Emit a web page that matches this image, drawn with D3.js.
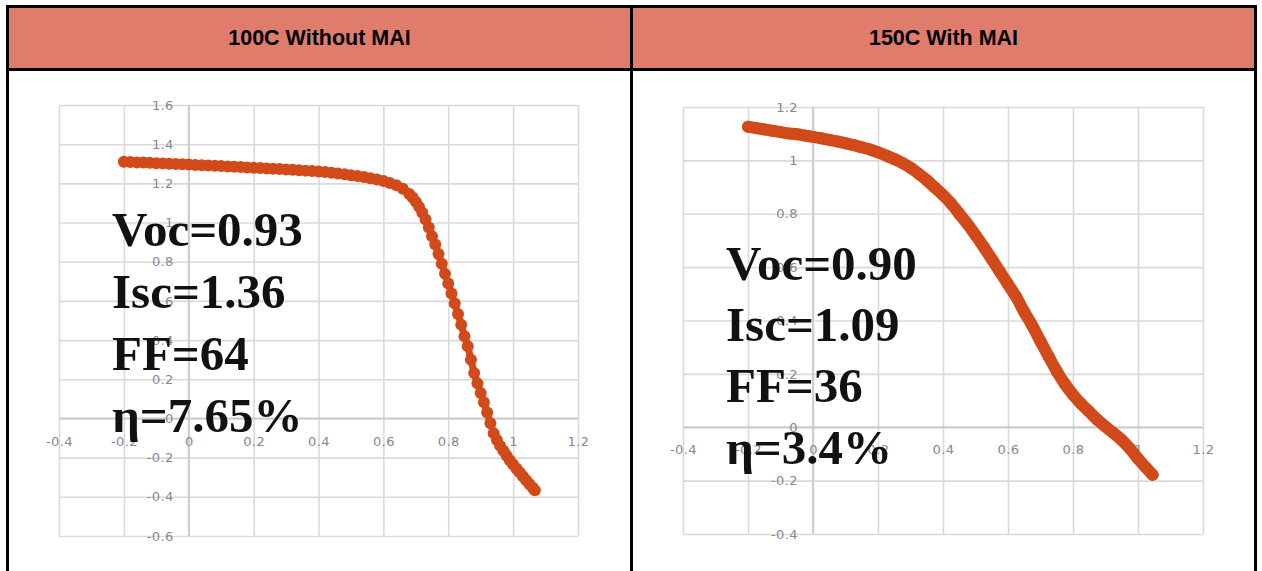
<!DOCTYPE html>
<html>
<head>
<meta charset="utf-8">
<script src="https://cdn.jsdelivr.net/npm/d3@7"></script>
<style>
  html, body { margin: 0; padding: 0; background: #ffffff; }
  svg { display: block; }
</style>
</head>
<body>
<svg id="chart" width="1262" height="571"></svg>
<script>
// ---------- data ----------
const panelTitles = ["100C Without MAI", "150C With MAI"];

// Left panel (100C without MAI): voltage (V) and current
const leftVoltage = [-0.20,-0.18,-0.16,-0.14,-0.12,-0.10,-0.08,-0.06,-0.04,-0.02,
  0.00,0.02,0.04,0.06,0.08,0.10,0.12,0.14,0.16,0.18,0.20,0.22,0.24,0.26,0.28,0.30,
  0.32,0.34,0.36,0.38,0.40,0.42,0.44,0.46,0.48,0.50,0.52,0.54,0.56,0.58,0.60,0.62,
  0.64,0.66,0.68,0.69,0.70,0.71,0.72,0.73,0.74,0.75,0.76,0.77,0.78,0.79,0.80,0.81,
  0.82,0.83,0.84,0.85,0.86,0.87,0.88,0.89,0.90,0.91,0.92,0.93,0.94,0.95,0.96,0.97,
  0.98,0.99,1.00,1.01,1.02,1.03,1.04,1.05,1.06,1.067];
const leftCurrent = [1.310,1.309,1.307,1.306,1.305,1.303,1.302,1.300,1.299,1.297,
  1.296,1.294,1.293,1.291,1.290,1.288,1.286,1.285,1.283,1.281,1.280,1.278,1.276,1.275,1.273,1.271,
  1.269,1.267,1.265,1.263,1.261,1.258,1.254,1.250,1.246,1.242,1.237,1.232,1.226,1.220,1.212,1.202,
  1.190,1.172,1.146,1.128,1.106,1.080,1.050,1.015,0.975,0.930,0.888,0.840,0.790,0.738,0.689,0.638,
  0.587,0.533,0.478,0.420,0.368,0.300,0.232,0.180,0.130,0.083,0.030,-0.025,-0.075,-0.110,-0.140,-0.165,
  -0.190,-0.215,-0.235,-0.255,-0.275,-0.295,-0.315,-0.334,-0.352,-0.366];

// Right panel (150C with MAI)
const rightVoltage = [-0.200,-0.175,-0.150,-0.125,-0.100,-0.075,-0.050,-0.025,0.000,0.025,
  0.050,0.075,0.100,0.125,0.150,0.175,0.200,0.225,0.250,0.275,0.300,0.325,0.350,0.375,0.400,
  0.425,0.450,0.475,0.500,0.525,0.550,0.575,0.600,0.625,0.650,0.675,0.700,0.725,0.750,0.775,
  0.800,0.825,0.850,0.875,0.900,0.925,0.950,0.975,1.000,1.025,1.045];
const rightCurrent = [1.126,1.121,1.116,1.111,1.106,1.101,1.098,1.093,1.088,1.083,
  1.077,1.071,1.064,1.057,1.049,1.041,1.030,1.018,1.005,0.990,0.972,0.950,0.926,0.898,0.870,
  0.838,0.800,0.762,0.720,0.676,0.630,0.583,0.536,0.489,0.432,0.380,0.322,0.265,0.210,0.162,
  0.122,0.088,0.058,0.028,0.002,-0.022,-0.048,-0.080,-0.118,-0.152,-0.178];

// Tick values / labels
const leftXTicks = [-0.4,-0.2,0,0.2,0.4,0.6,0.8,1,1.2];
const leftXLabels = ["-0.4","-0.2","0","0.2","0.4","0.6","0.8","1","1.2"];
const leftYTicks = [-0.6,-0.4,-0.2,0,0.2,0.4,0.6,0.8,1,1.2,1.4,1.6];
const leftYLabels = ["-0.6","-0.4","-0.2","0","0.2","0.4","0.6","0.8","1","1.2","1.4","1.6"];
const rightXTicks = [-0.4,-0.2,0,0.2,0.4,0.6,0.8,1,1.2];
const rightXLabels = ["-0.4","-0.2","0","0.2","0.4","0.6","0.8","1","1.2"];
const rightYTicks = [-0.4,-0.2,0,0.2,0.4,0.6,0.8,1,1.2];
const rightYLabels = ["-0.4","-0.2","0","0.2","0.4","0.6","0.8","1","1.2"];

// Annotations
const leftNotes = ["Voc=0.93", "Isc=1.36", "FF=64", "η=7.65%"];
const rightNotes = ["Voc=0.90", "Isc=1.09", "FF=36", "η=3.4%"];

// ---------- layout ----------
const svg = d3.select("#chart");
const W = 1262, H = 571;
const headerColor = "#df7c6c";
const curveColor = "#d24a1a";

// header cells
svg.append("rect").attr("x", 7.5).attr("y", 6.5).attr("width", 1248).attr("height", 63)
  .attr("fill", headerColor);
// borders
const border = svg.append("g").attr("stroke", "#000").attr("stroke-width", 3).attr("fill", "none");
border.append("line").attr("x1", 7.5).attr("x2", 7.5).attr("y1", 5).attr("y2", H);
border.append("line").attr("x1", 631.5).attr("x2", 631.5).attr("y1", 5).attr("y2", H);
border.append("line").attr("x1", 1255.5).attr("x2", 1255.5).attr("y1", 5).attr("y2", H);
border.append("line").attr("x1", 6).attr("x2", 1257).attr("y1", 6.5).attr("y2", 6.5);
border.append("line").attr("x1", 6).attr("x2", 1257).attr("y1", 69.5).attr("y2", 69.5);

const headerCenters = [319.5, 943.5];
panelTitles.forEach((t, i) => {
  svg.append("text").attr("x", headerCenters[i]).attr("y", 38)
    .attr("text-anchor", "middle").attr("dominant-baseline", "central")
    .attr("font-family", "'Liberation Sans', Arial, sans-serif")
    .attr("font-weight", "bold").attr("font-size", 21.5).attr("fill", "#000")
    .text(t);
});

function drawPanel(cfg) {
  const x = d3.scaleLinear().domain([-0.4, 1.2]).range([cfg.x0, cfg.x1]);
  const y = d3.scaleLinear().domain(cfg.yDomain).range([cfg.y1, cfg.y0]);
  const g = svg.append("g");

  // vertical gridlines
  const gx = g.append("g").attr("transform", `translate(0,${cfg.y1})`)
    .call(d3.axisBottom(x).tickValues(cfg.xTicks).tickSize(-(cfg.y1 - cfg.y0)).tickFormat(""));
  gx.select(".domain").remove();
  gx.selectAll("line").attr("stroke", "#dadada").attr("stroke-width", 1.6);

  // horizontal gridlines
  const gy = g.append("g").attr("transform", `translate(${cfg.x0},0)`)
    .call(d3.axisLeft(y).tickValues(cfg.yTicks).tickSize(-(cfg.x1 - cfg.x0)).tickFormat(""));
  gy.select(".domain").remove();
  gy.selectAll("line").attr("stroke", "#dadada").attr("stroke-width", 1.6);

  // zero axes
  g.append("line").attr("x1", cfg.x0).attr("x2", cfg.x1).attr("y1", y(0)).attr("y2", y(0))
    .attr("stroke", "#cbcbcb").attr("stroke-width", 1.8);
  g.append("line").attr("x1", x(0)).attr("x2", x(0)).attr("y1", cfg.y0).attr("y2", cfg.y1)
    .attr("stroke", "#cbcbcb").attr("stroke-width", 1.8);

  // x labels
  const xl = g.append("g").attr("transform", `translate(0,${y(0)})`)
    .call(d3.axisBottom(x).tickValues(cfg.xTicks).tickSize(0).tickPadding(18)
      .tickFormat((d, i) => cfg.xLabels[i]));
  xl.select(".domain").remove();
  xl.selectAll("text").attr("font-family", "'DejaVu Sans', sans-serif").attr("font-size", 13)
    .attr("fill", "#868698").attr("letter-spacing", 0.4);

  // y labels
  const yl = g.append("g").attr("transform", `translate(${x(0)},0)`)
    .call(d3.axisLeft(y).tickValues(cfg.yTicks).tickSize(0).tickPadding(15)
      .tickFormat((d, i) => cfg.yLabels[i]));
  yl.select(".domain").remove();
  yl.selectAll("text").attr("font-family", "'DejaVu Sans', sans-serif").attr("font-size", 13)
    .attr("fill", "#868698").attr("letter-spacing", 0.4);

  // curve
  const pts = cfg.v.map((v, i) => [v, cfg.c[i]]);
  const line = d3.line().x(d => x(d[0])).y(d => y(d[1])).curve(d3.curveMonotoneX);
  g.append("path").datum(pts).attr("d", line).attr("fill", "none")
    .attr("stroke", curveColor).attr("stroke-width", cfg.lineWidth)
    .attr("stroke-linecap", "round").attr("stroke-linejoin", "round");
  g.append("g").selectAll("circle").data(pts).join("circle")
    .attr("cx", d => x(d[0])).attr("cy", d => y(d[1])).attr("r", 6)
    .attr("fill", curveColor);

  // annotations
  cfg.notes.forEach((t, i) => {
    g.append("text").attr("x", cfg.noteX).attr("y", cfg.noteY[i])
      .attr("font-family", "'Liberation Serif', 'Times New Roman', serif")
      .attr("font-weight", "bold").attr("font-size", 49).attr("fill", "#111")
      .text(t);
  });
}

drawPanel({
  x0: 59, x1: 578, y0: 105, y1: 536, yDomain: [-0.6, 1.6],
  xTicks: leftXTicks, xLabels: leftXLabels, yTicks: leftYTicks, yLabels: leftYLabels,
  v: leftVoltage, c: leftCurrent, lineWidth: 7,
  notes: leftNotes, noteX: 112, noteY: [246, 308, 370, 432]
});

drawPanel({
  x0: 683, x1: 1203, y0: 107, y1: 534, yDomain: [-0.4, 1.2],
  xTicks: rightXTicks, xLabels: rightXLabels, yTicks: rightYTicks, yLabels: rightYLabels,
  v: rightVoltage, c: rightCurrent, lineWidth: 12,
  notes: rightNotes, noteX: 726, noteY: [280, 341, 402, 464]
});
</script>
</body>
</html>
